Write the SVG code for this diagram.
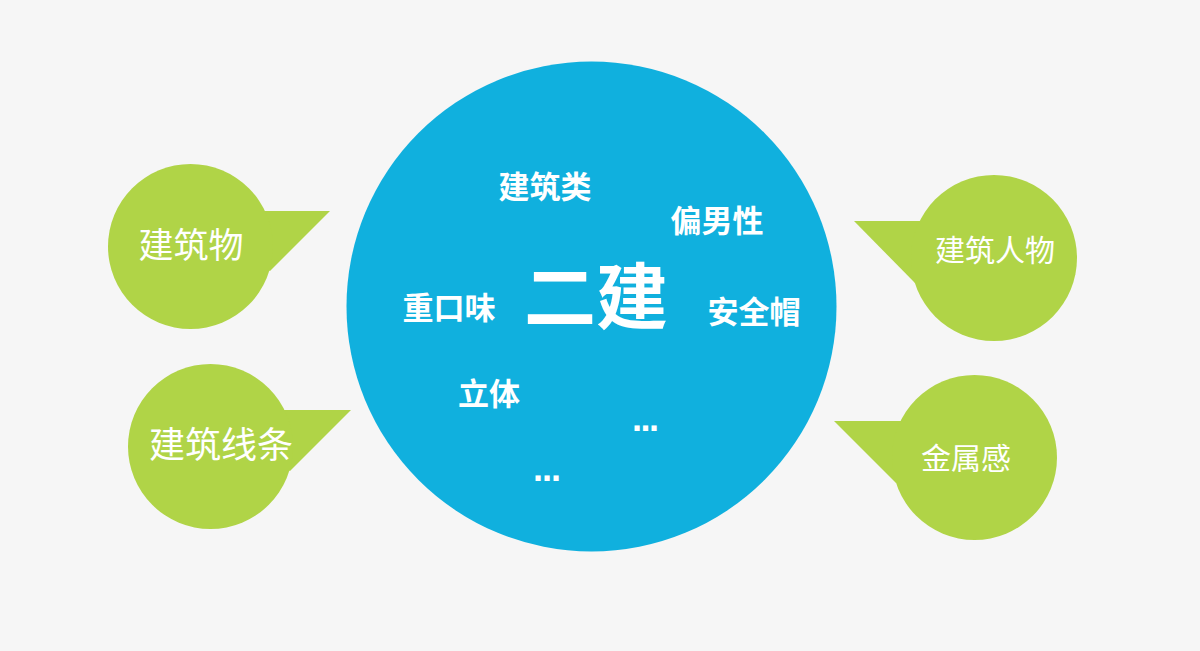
<svg xmlns="http://www.w3.org/2000/svg" width="1200" height="651" viewBox="0 0 1200 651">
<style>
.bg{fill:#f6f6f6}
.green{fill:#b0d447}
.blue{fill:#10b0de}
.lt{font-family:"Noto Sans CJK SC","Noto Sans",sans-serif;font-weight:400;fill:#ffffff}
.bt{font-family:"Noto Sans CJK SC","Noto Sans",sans-serif;font-weight:700;fill:#ffffff}
.dots{font-family:"Liberation Sans",Arial,sans-serif;font-weight:700;fill:#ffffff;font-size:36px;letter-spacing:-1.5px}
</style>
<rect class="bg" x="0" y="0" width="1200" height="651"/>
<g id="connectors">
<polygon class="green" points="262,211 330,211 270,271 250,260"/>
<polygon class="green" points="282,410 351,410 290,471 270,460"/>
<polygon class="green" points="924,221 854,221 915,283 935,270"/>
<polygon class="green" points="904,421 834,421 896,483 915,470"/>
</g>
<g id="center">
<circle class="blue" cx="591.5" cy="306.5" r="245"/>
<text class="bt" x="596" y="323" font-size="72" text-anchor="middle">二建</text>
<text class="bt" x="545" y="198" font-size="31" text-anchor="middle">建筑类</text>
<text class="bt" x="717" y="232" font-size="31" text-anchor="middle">偏男性</text>
<text class="bt" x="449" y="319" font-size="31" text-anchor="middle">重口味</text>
<text class="bt" x="754" y="323" font-size="31" text-anchor="middle">安全帽</text>
<text class="bt" x="489" y="405" font-size="31" text-anchor="middle">立体</text>
<text class="dots" x="632" y="431">...</text>
<text class="dots" x="533" y="481" style="letter-spacing:-1px">...</text>
</g>
<g id="node-jianzhuwu">
<circle class="green" cx="190.5" cy="246.5" r="82.5"/>
<text class="lt" x="191" y="258" font-size="35" text-anchor="middle">建筑物</text>
</g>
<g id="node-jianzhuxiantiao">
<circle class="green" cx="210.5" cy="446.5" r="82.5"/>
<text class="lt" x="221" y="458" font-size="36" text-anchor="middle">建筑线条</text>
</g>
<g id="node-jianzhurenwu">
<circle class="green" cx="994" cy="258" r="83"/>
<text class="lt" x="995" y="261" font-size="30" text-anchor="middle">建筑人物</text>
</g>
<g id="node-jinshugan">
<circle class="green" cx="974.5" cy="457.5" r="82.5"/>
<text class="lt" x="966" y="469" font-size="30" text-anchor="middle">金属感</text>
</g>
</svg>
